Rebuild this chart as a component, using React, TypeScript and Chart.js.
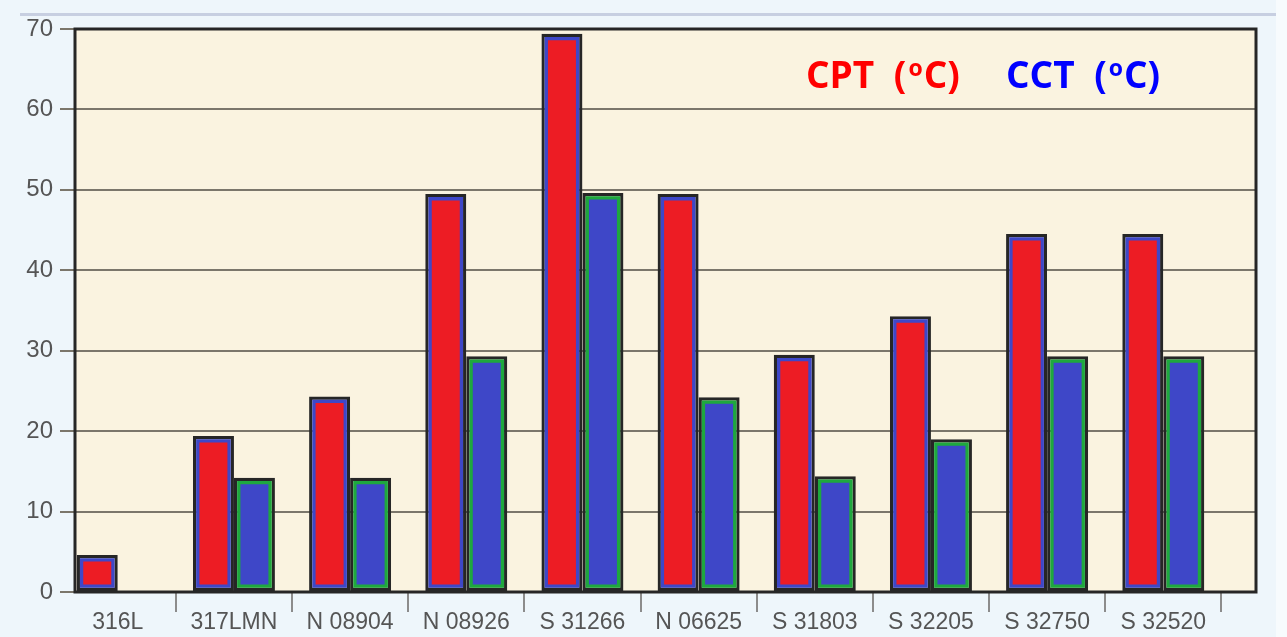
import React, { useEffect, useRef } from "react";
import { Chart, registerables } from "chart.js";

Chart.register(...registerables);

const CATEGORIES = ["316L", "317LMN", "N 08904", "N 08926", "S 31266", "N 06625", "S 31803", "S 32205", "S 32750", "S 32520"];
const CPT_VALUES = [4.6, 19.4, 24.3, 49.5, 69.4, 49.5, 29.5, 34.3, 44.5, 44.5];
const CCT_VALUES: (number | null)[] = [null, 14.2, 14.2, 29.3, 49.6, 24.2, 14.4, 19.0, 29.3, 29.3];
const Y_TICKS = [0, 10, 20, 30, 40, 50, 60, 70];

const PAGE_BG = "#eef6fb";
const PLOT_BG = "#faf3e0";
const DARK = "#262626";
const RED = "#ed1c24";
const BLUE = "#3e47c8";
const GREEN = "#1ea83e";
const LABEL = "#555555";
const GRID = "#7b766b";

const toPoints = (arr: (number | null)[]) => arr.map((v, i) => ({ x: i, y: v }));

const framePlugin = {
  id: "frame",
  beforeDraw(chart: any) {
    const { ctx, chartArea, width, height } = chart;
    ctx.save();
    ctx.fillStyle = PAGE_BG;
    ctx.fillRect(0, 0, width, height);
    ctx.fillStyle = "#f7fbfd";
    ctx.fillRect(1276, 0, width - 1276, height);
    ctx.fillStyle = "#c7cfe1";
    ctx.fillRect(20, 13, 1256, 3);
    ctx.fillStyle = PLOT_BG;
    ctx.fillRect(chartArea.left, chartArea.top, chartArea.right - chartArea.left, chartArea.bottom - chartArea.top);
    ctx.restore();
  },
  afterDraw(chart: any) {
    const { ctx, chartArea } = chart;
    ctx.save();
    ctx.strokeStyle = DARK;
    ctx.lineWidth = 3;
    ctx.strokeRect(chartArea.left, chartArea.top, chartArea.right - chartArea.left, chartArea.bottom - chartArea.top);
    ctx.restore();
  },
};

export default function App() {
  const canvasRef = useRef<HTMLCanvasElement | null>(null);

  useEffect(() => {
    if (!canvasRef.current) return;
    const common = { barThickness: 41, borderSkipped: false as const, inflateAmount: 0 };
    const chart = new Chart(canvasRef.current, {
      type: "bar",
      data: {
        datasets: [
          { label: "CPT", data: toPoints(CPT_VALUES), stack: "cpt", backgroundColor: RED, borderColor: "rgba(0,0,0,0)", borderWidth: 6.5, ...common },
          { label: "CCT", data: toPoints(CCT_VALUES), stack: "cct", backgroundColor: BLUE, borderColor: "rgba(0,0,0,0)", borderWidth: 6.5, ...common },
          { label: "CPT frame", data: toPoints(CPT_VALUES), stack: "cpt", backgroundColor: BLUE, borderColor: DARK, borderWidth: 3.2, ...common },
          { label: "CCT frame", data: toPoints(CCT_VALUES), stack: "cct", backgroundColor: GREEN, borderColor: DARK, borderWidth: 3.2, ...common },
        ] as any,
      },
      options: {
        responsive: false,
        devicePixelRatio: 1,
        animation: false,
        layout: { padding: { left: 0, top: 29, right: 31, bottom: 0 } },
        plugins: { legend: { display: false }, tooltip: { enabled: false } },
        scales: {
          x: {
            type: "linear",
            position: "bottom",
            offset: false,
            min: -0.368,
            max: 9.798,
            afterBuildTicks(scale: any) {
              const t: any[] = [];
              CATEGORIES.forEach((_, i) => {
                t.push({ value: i });
                t.push({ value: i + 0.5 });
              });
              scale.ticks = t;
            },
            afterFit(scale: any) {
              scale.height = 45;
            },
            grid: {
              offset: false,
              drawOnChartArea: false,
              drawTicks: true,
              tickLength: 20,
              lineWidth: 2,
              color: (c: any) => (c.tick && Number.isInteger(c.tick.value) ? "rgba(0,0,0,0)" : "#8c8c8c"),
            },
            border: { display: false },
            ticks: {
              autoSkip: false,
              maxRotation: 0,
              minRotation: 0,
              padding: -3,
              color: LABEL,
              font: { family: "'Liberation Sans', Arial, sans-serif", size: 23 },
              callback: (v: any) => (Number.isInteger(v) ? CATEGORIES[v] : ""),
            },
          },
          y: {
            min: 0,
            max: 70,
            stacked: false,
            afterBuildTicks(scale: any) {
              scale.ticks = Y_TICKS.map((v) => ({ value: v }));
            },
            afterFit(scale: any) {
              scale.width = 75;
            },
            grid: { color: GRID, lineWidth: 2, tickLength: 15 },
            border: { display: false },
            ticks: {
              padding: 7,
              color: LABEL,
              font: { family: "'Liberation Sans', Arial, sans-serif", size: 24 },
            },
          },
        },
      } as any,
      plugins: [framePlugin],
    });
    return () => chart.destroy();
  }, []);

  const legendStyle: React.CSSProperties = {
    position: "absolute",
    top: 55,
    fontFamily: "'Open Sans', sans-serif",
    fontWeight: 700,
    fontSize: 37,
    lineHeight: 1,
    whiteSpace: "nowrap",
    wordSpacing: 10,
    letterSpacing: 0,
  };
  const sup: React.CSSProperties = { fontSize: 23, position: "relative", top: -12, marginLeft: 2, marginRight: 1 };

  return (
    <div style={{ position: "fixed", left: 0, top: 0, width: 1287, height: 637, background: PAGE_BG, overflow: "hidden" }}>
      <canvas ref={canvasRef} width={1287} height={637} style={{ display: "block" }} />
      <div style={{ ...legendStyle, left: 806, color: "#ff0000" }}>
        CPT (<span style={sup}>o</span>C)
      </div>
      <div style={{ ...legendStyle, left: 1006, color: "#0000ff" }}>
        CCT (<span style={sup}>o</span>C)
      </div>
    </div>
  );
}
